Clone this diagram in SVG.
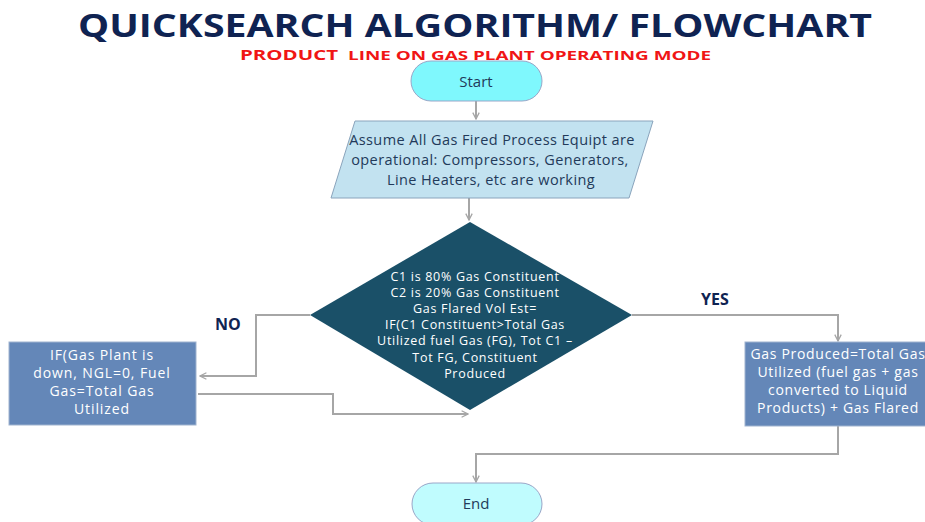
<svg xmlns="http://www.w3.org/2000/svg" width="925" height="522" viewBox="0 0 925 522">
<defs>
<marker id="ah" viewBox="0 0 10 10" refX="9" refY="5" markerWidth="8" markerHeight="8" markerUnits="userSpaceOnUse" orient="auto">
<path d="M1,1 L9,5 L1,9" fill="none" stroke="#a6a6a6" stroke-width="1.6"/>
</marker>
<style>
.title{font-family:"Open Sans","Liberation Sans",sans-serif;font-weight:bold;fill:#0f2352}
.sub{font-family:"Open Sans","Liberation Sans",sans-serif;font-weight:bold;fill:#f01515}
.t{font-family:"Open Sans","Liberation Sans",sans-serif;text-anchor:middle}
.dark{fill:#223a5a}
.white{fill:#ffffff}
.lbl{font-family:"Open Sans","Liberation Sans",sans-serif;font-weight:bold;fill:#0f2352;font-size:16px}
.conn{fill:none;stroke:#a6a6a6;stroke-width:2}
.box{fill:#6487b8;stroke:#9fb3cf;stroke-width:1}
</style>
</defs>
<rect width="925" height="522" fill="#ffffff"/>
<text class="title" x="78" y="37" font-size="32" textLength="794" lengthAdjust="spacingAndGlyphs">QUICKSEARCH ALGORITHM/ FLOWCHART</text>
<text class="sub" y="60"><tspan x="240" font-size="14.5" textLength="98" lengthAdjust="spacingAndGlyphs">PRODUCT</tspan><tspan x="348" font-size="12" textLength="363" lengthAdjust="spacingAndGlyphs">LINE ON GAS PLANT OPERATING MODE</tspan></text>

<g id="connectors">
<path class="conn" d="M476,101 V119" marker-end="url(#ah)"/>
<path class="conn" d="M469,198 V220" marker-end="url(#ah)"/>
<path class="conn" d="M310,315 H256 V376 H200" marker-end="url(#ah)"/>
<path class="conn" d="M198,394 H333 V414 H468" marker-end="url(#ah)"/>
<path class="conn" d="M632,315 H838 V341" marker-end="url(#ah)"/>
<path class="conn" d="M838,426 V454 H476 V482" marker-end="url(#ah)"/>
</g>
<text class="lbl" x="215" y="330">NO</text>
<text class="lbl" x="701" y="305">YES</text>

<g id="start">
<rect x="411" y="61" width="131" height="40" rx="20" fill="#7ff8fd" stroke="#9aa6c8" stroke-width="1"/>
<text class="t dark" x="476" y="87" font-size="15">Start</text>
</g>

<g id="assume">
<polygon points="355,121 653,121 629,198 331,198" fill="#c2e2f0" stroke="#8aa4bc" stroke-width="1"/>
<text class="t dark" font-size="14.5" letter-spacing="0.4"><tspan x="492" y="145">Assume All Gas Fired Process Equipt are</tspan><tspan x="490" y="165">operational: Compressors, Generators,</tspan><tspan x="491" y="185">Line Heaters, etc are working</tspan></text>
</g>

<g id="decision">
<polygon points="470,222 632,315 470,410 310,315" fill="#1a5068"/>
<text class="t white" font-size="12.5" letter-spacing="0.7"><tspan x="475" y="281">C1 is 80% Gas Constituent</tspan><tspan x="475" y="297">C2 is 20% Gas Constituent</tspan><tspan x="475" y="313">Gas Flared Vol Est=</tspan><tspan x="475" y="329">IF(C1 Constituent&gt;Total Gas</tspan><tspan x="475" y="345">Utilized fuel Gas (FG), Tot C1 –</tspan><tspan x="475" y="362">Tot FG, Constituent</tspan><tspan x="475" y="378">Produced</tspan></text>
</g>

<g id="no-box">
<rect class="box" x="9" y="342" width="187" height="83"/>
<text class="t white" font-size="14" letter-spacing="0.9"><tspan x="102" y="360">IF(Gas Plant is</tspan><tspan x="102" y="378">down, NGL=0, Fuel</tspan><tspan x="102" y="396">Gas=Total Gas</tspan><tspan x="102" y="414">Utilized</tspan></text>
</g>

<g id="yes-box">
<rect class="box" x="745" y="342" width="186" height="84"/>
<text class="t white" font-size="14" letter-spacing="0.7"><tspan x="838" y="359">Gas Produced=Total Gas</tspan><tspan x="838" y="377">Utilized (fuel gas + gas</tspan><tspan x="838" y="395">converted to Liquid</tspan><tspan x="838" y="413">Products)  + Gas Flared</tspan></text>
</g>

<g id="end">
<rect x="412" y="483" width="130" height="42" rx="21" fill="#c0fcfe" stroke="#9aa6c8" stroke-width="1"/>
<text class="t dark" x="476" y="509" font-size="15">End</text>
</g>
</svg>
